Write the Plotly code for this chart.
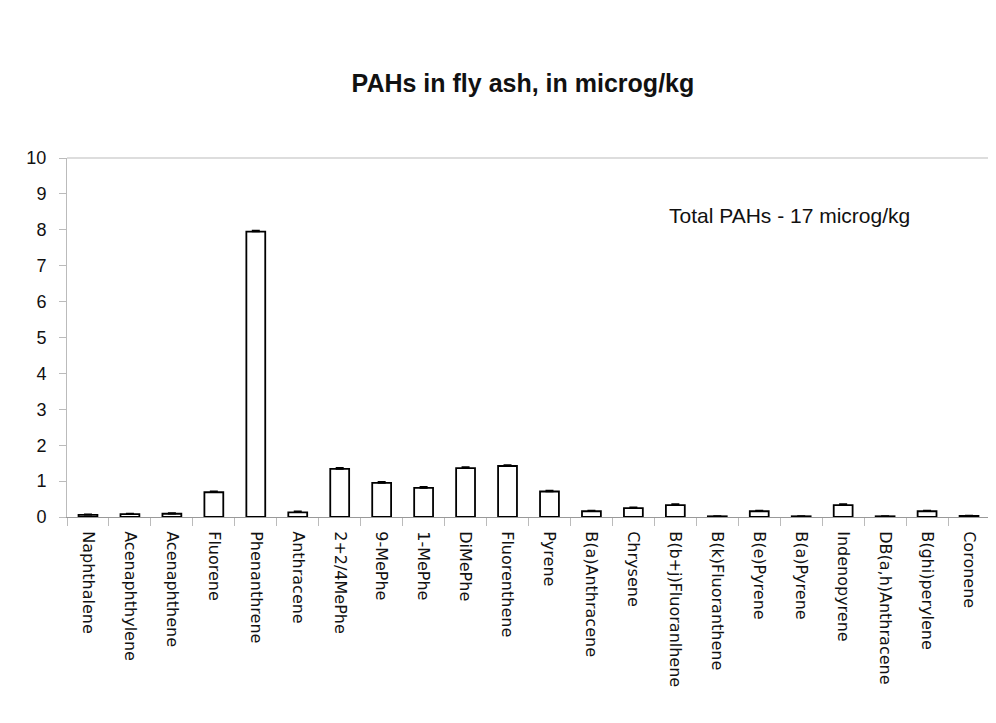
import plotly.graph_objects as go

# PAH concentrations in fly ash (microg/kg)
compounds = [
    "Naphthalene", "Acenaphthylene", "Acenaphthene", "Fluorene", "Phenanthrene",
    "Anthracene", "2+2/4MePhe", "9-MePhe", "1-MePhe", "DiMePhe", "Fluorenthene",
    "Pyrene", "B(a)Anthracene", "Chrysene", "B(b+j)Fluoranlhene", "B(k)Fluoranthene",
    "B(e)Pyrene", "B(a)Pyrene", "Indenopyrene", "DB(a,h)Anthracene", "B(ghi)perylene",
    "Coronene",
]
values = [0.06, 0.08, 0.09, 0.69, 7.95, 0.13, 1.34, 0.95, 0.81, 1.36, 1.42,
          0.71, 0.16, 0.25, 0.33, 0.02, 0.16, 0.02, 0.33, 0.02, 0.16, 0.03]
errors = [0.02, 0.02, 0.02, 0.03, 0.03, 0.03, 0.03, 0.03, 0.03, 0.03, 0.03,
          0.03, 0.02, 0.02, 0.03, 0.01, 0.02, 0.01, 0.03, 0.01, 0.02, 0.01]
y_ticks = list(range(0, 11))

fig = go.Figure(go.Bar(
    x=compounds,
    y=values,
    width=0.45,
    marker=dict(color="white", line=dict(color="black", width=1.8)),
    error_y=dict(type="data", array=errors, symmetric=False, arrayminus=[0] * len(errors),
                 color="black", thickness=1.5, width=4),
))

fig.update_layout(
    width=996, height=723,
    template="plotly_white",
    plot_bgcolor="white", paper_bgcolor="white",
    margin=dict(l=59, r=14, t=150, b=214),
    font=dict(family="Liberation Sans, Arial", size=14, color="#111"),
    title=dict(text="<b>PAHs in fly ash, in microg/kg</b>", x=0.517, xanchor="center",
               y=0.896, yanchor="middle", font=dict(size=25, color="#111")),
    showlegend=False,
)
fig.update_yaxes(
    range=[0, 10], tickvals=y_ticks, showgrid=False, zeroline=False,
    showline=True, linecolor="#bbb", linewidth=1, ticks="outside",
    ticklen=7, tickcolor="#bbb", tickfont=dict(size=18), ticklabelstandoff=9,
)
fig.update_xaxes(
    tickangle=90, showgrid=False, showline=True, linecolor="#999", linewidth=1,
    ticks="outside", ticklen=8, tickcolor="#bbb", tickson="boundaries",
    tickfont=dict(family="DejaVu Sans", size=16), ticklabelstandoff=10,
)
# faint top frame line
fig.add_shape(type="line", xref="paper", yref="paper", x0=0, x1=1, y0=1, y1=1,
              line=dict(color="#bbb", width=1))
fig.add_annotation(text="Total PAHs - 17 microg/kg", xref="paper", yref="y",
                   x=0.915, y=8.4, xanchor="right", showarrow=False,
                   font=dict(size=21, color="#111"))

fig.write_html("out.html")
